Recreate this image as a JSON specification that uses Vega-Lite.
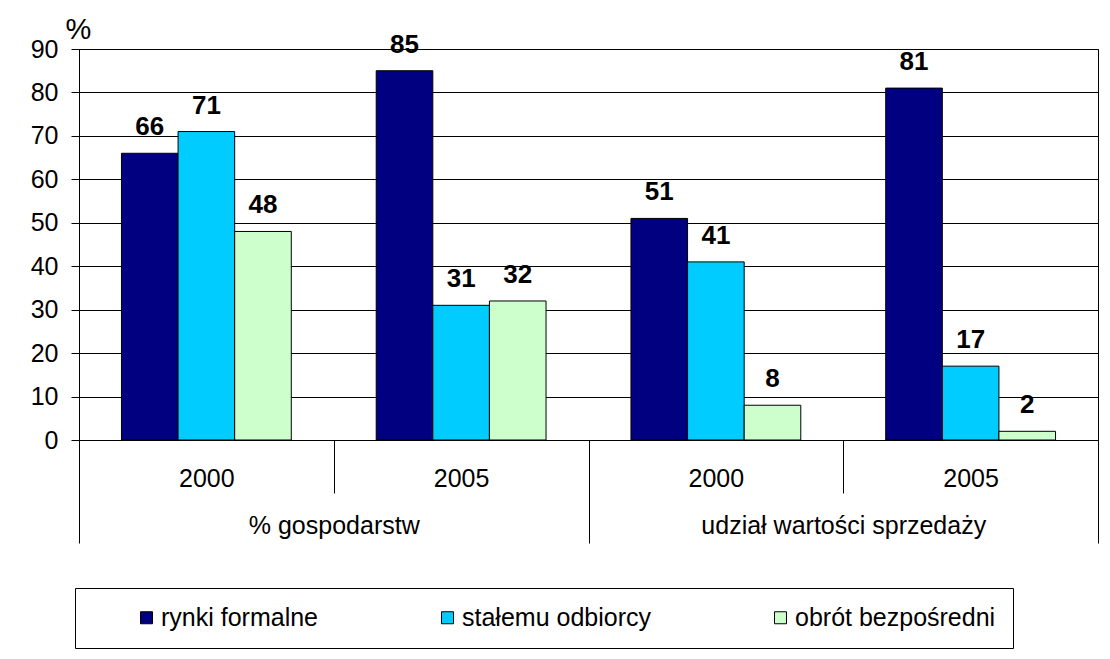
{
  "$schema": "https://vega.github.io/schema/vega-lite/v6.json",
  "width": 1019,
  "height": 391,
  "autosize": {"type": "none"},
  "padding": {"left": 79, "top": 49, "right": 12, "bottom": 219},
  "background": "white",
  "config": {
    "view": {"stroke": "black", "strokeWidth": 1},
    "font": "Liberation Sans",
    "axis": {"labelColor": "black", "titleColor": "black", "domainColor": "black", "tickColor": "black", "labelFont": "Liberation Sans", "titleFont": "Liberation Sans"},
    "legend": {"labelFont": "Liberation Sans", "titleFont": "Liberation Sans"}
  },
  "data": {
    "values": [
      {"group": "% gospodarstw", "slot": "2000", "series": "rynki formalne", "value": 66},
      {"group": "% gospodarstw", "slot": "2000", "series": "stałemu odbiorcy", "value": 71},
      {"group": "% gospodarstw", "slot": "2000", "series": "obrót bezpośredni", "value": 48},
      {"group": "% gospodarstw", "slot": "2005", "series": "rynki formalne", "value": 85},
      {"group": "% gospodarstw", "slot": "2005", "series": "stałemu odbiorcy", "value": 31},
      {"group": "% gospodarstw", "slot": "2005", "series": "obrót bezpośredni", "value": 32},
      {"group": "udział wartości sprzedaży", "slot": "\u200b2000", "series": "rynki formalne", "value": 51},
      {"group": "udział wartości sprzedaży", "slot": "\u200b2000", "series": "stałemu odbiorcy", "value": 41},
      {"group": "udział wartości sprzedaży", "slot": "\u200b2000", "series": "obrót bezpośredni", "value": 8},
      {"group": "udział wartości sprzedaży", "slot": "\u200b2005", "series": "rynki formalne", "value": 81},
      {"group": "udział wartości sprzedaży", "slot": "\u200b2005", "series": "stałemu odbiorcy", "value": 17},
      {"group": "udział wartości sprzedaży", "slot": "\u200b2005", "series": "obrót bezpośredni", "value": 2}
    ]
  },
  "layer": [
    {
      "encoding": {
        "x": {
          "field": "slot", "type": "nominal",
          "scale": {"domain": ["2000", "2005", "\u200b2000", "\u200b2005"], "paddingInner": 0, "paddingOuter": 0},
          "axis": {"orient": "bottom", "title": null, "tickBand": "extent", "tickSize": 53, "labelFontSize": 25, "labelBaseline": "middle", "labelPadding": -15, "labelAngle": 0, "grid": false}
        },
        "xOffset": {
          "field": "series", "type": "nominal",
          "scale": {"domain": ["rynki formalne", "stałemu odbiorcy", "obrót bezpośredni"], "paddingInner": 0, "paddingOuter": 0.75}
        },
        "y": {
          "field": "value", "type": "quantitative",
          "scale": {"domain": [0, 90], "nice": false},
          "axis": {"values": [0, 10, 20, 30, 40, 50, 60, 70, 80, 90], "title": "%", "titleAngle": 0, "titleX": -1, "titleY": -5, "titleAlign": "center", "titleBaseline": "bottom", "titleFontSize": 29, "titleFontWeight": "normal", "grid": true, "gridColor": "black", "gridOpacity": 1, "tickSize": 8, "labelFontSize": 25, "labelPadding": 13}
        }
      },
      "layer": [
        {
          "mark": {"type": "bar", "stroke": "black", "strokeWidth": 1},
          "encoding": {
            "color": {
              "field": "series", "type": "nominal",
              "scale": {"domain": ["rynki formalne", "stałemu odbiorcy", "obrót bezpośredni"], "range": ["#000080", "#00CCFF", "#CCFFCC"]},
              "legend": {
                "orient": "none", "legendX": -4, "legendY": 539, "direction": "horizontal",
                "title": "\u00a0", "titleOrient": "left", "titleFontSize": 1, "titlePadding": 42,
                "symbolType": "square", "symbolSize": 144, "symbolStrokeColor": "black", "symbolStrokeWidth": 1, "symbolOpacity": 1,
                "labelFontSize": 25, "labelColor": "black", "labelOffset": 2, "labelLimit": 500, "columnPadding": 117,
                "padding": 17, "strokeColor": "black", "fillColor": "white",
                "labelExpr": "datum.label == 'obrót bezpośredni' ? datum.label + '\u00a0\u00a0\u00a0\u00a0\u00a0\u00a0\u00a0\u00a0\u00a0\u00a0\u00a0' : datum.label"
              }
            }
          }
        },
        {
          "mark": {"type": "text", "fontWeight": "bold", "fontSize": 26, "dy": -18, "baseline": "alphabetic", "color": "black"},
          "encoding": {"text": {"field": "value", "type": "quantitative"}}
        }
      ]
    },
    {
      "mark": {"type": "rule", "opacity": 0},
      "encoding": {
        "x": {
          "field": "group", "type": "nominal",
          "scale": {"domain": ["% gospodarstw", "udział wartości sprzedaży"], "paddingInner": 0, "paddingOuter": 0},
          "axis": {"orient": "bottom", "title": null, "tickBand": "extent", "tickSize": 103, "domain": false, "labelFontSize": 25, "labelBaseline": "middle", "labelPadding": -18, "labelAngle": 0, "labelLimit": 500, "grid": false}
        }
      }
    }
  ],
  "resolve": {"scale": {"x": "independent", "xOffset": "independent"}, "axis": {"x": "independent"}}
}
